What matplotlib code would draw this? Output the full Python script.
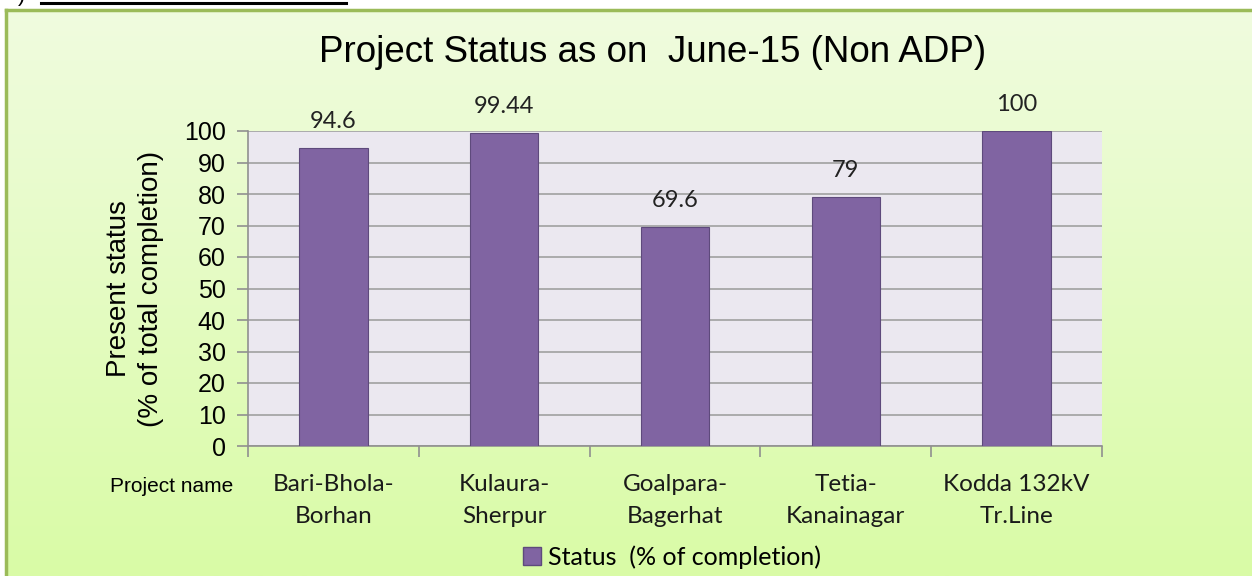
import matplotlib
matplotlib.use('Agg')
import matplotlib.pyplot as plt
import numpy as np
from matplotlib.patches import Patch
from matplotlib.lines import Line2D

projects = ['Bari-Bhola-\nBorhan', 'Kulaura-\nSherpur', 'Goalpara-\nBagerhat',
            'Tetia-\nKanainagar', 'Kodda 132kV\nTr.Line']
status = [94.6, 99.44, 69.6, 79, 100]
labels = ['94.6', '99.44', '69.6', '79', '100']
yticks = list(range(0, 101, 10))

W, H = 1252, 576
fig = plt.figure(figsize=(W / 100, H / 100), dpi=100)
fig.patch.set_facecolor('white')

# green gradient panel with border
bg = fig.add_axes([5 / W, 0, 1 - 5 / W, 1 - 10 / H], zorder=-10)
grad = np.linspace(0, 1, 256)[:, None]
top = np.array([240, 252, 223]) / 255
bot = np.array([217, 251, 166]) / 255
img = top[None, None, :] * (1 - grad[:, :, None]) + bot[None, None, :] * grad[:, :, None]
bg.imshow(img, aspect='auto', extent=[0, 1, 0, 1])
bg.set_xlim(0, 1)
bg.set_ylim(0, 1)
bg.axis('off')
fig.add_artist(Line2D([6 / W, 1], [1 - 10 / H, 1 - 10 / H], color='#9BBB59', lw=2.5))
fig.add_artist(Line2D([6 / W, 6 / W], [0, 1 - 10 / H], color='#9BBB59', lw=2.5))

# fragment of page text above the chart
fig.text(18 / W, 1 + 4 / H, ')', fontsize=16, color='black', va='center',
         family='Liberation Sans')
fig.add_artist(Line2D([41 / W, 346 / W], [1 - 3 / H, 1 - 3 / H], color='black', lw=2.2))

ax = fig.add_axes([248 / W, 1 - 446 / H, (1102 - 248) / W, (446 - 131) / H])
ax.set_facecolor('#EBE8F0')
x = np.arange(len(projects))
bars = ax.bar(x, status, width=0.40, color='#8064A2', edgecolor='#5E4A7C',
              linewidth=0.8, zorder=3)
for b, lab in zip(bars, labels):
    ax.annotate(lab, (b.get_x() + b.get_width() / 2, b.get_height()),
                xytext=(0, 19), textcoords='offset points', ha='center', va='center',
                fontsize=17, family='Lato', color='#222222')

ax.set_xlim(-0.5, len(projects) - 0.5)
ax.set_ylim(0, 100)
ax.set_yticks(yticks)
ax.yaxis.grid(True, color='#A0A0A0', lw=1.2, zorder=1)
ax.set_axisbelow(True)
for s in ['top', 'right']:
    ax.spines[s].set_visible(False)
for s in ['left', 'bottom']:
    ax.spines[s].set_color('#909090')
    ax.spines[s].set_linewidth(1.2)

ax.set_xticks(x)
ax.set_xticklabels(projects, fontsize=17.5, family='Lato', color='#1a1a1a', linespacing=1.65)
ax.tick_params(axis='x', which='major', length=0, pad=20)
ax.set_xticks(np.arange(len(projects) + 1) - 0.5, minor=True)
ax.tick_params(axis='x', which='minor', length=8, color='#909090', width=1.2)
ax.tick_params(axis='y', length=8, color='#909090', width=1.2, pad=8)
for t in ax.get_yticklabels():
    t.set_fontsize(18)
    t.set_family('Liberation Sans')

ax.set_ylabel('Present status\n(% of total completion)', fontsize=20,
              family='Liberation Sans', linespacing=1.32)
ax.yaxis.set_label_coords(-0.098, 0.5)

fig.text(653 / W, 1 - 52 / H, 'Project Status as on  June-15 (Non ADP)', fontsize=26.5,
         family='Liberation Sans', ha='center', va='center')
fig.text(172 / W, 1 - 487 / H, 'Project name', fontsize=15,
         family=['Liberation Sans Narrow', 'Liberation Sans'], ha='center', va='center')

fig.legend(handles=[Patch(facecolor='#8064A2', edgecolor='#5E4A7C', label='Status  (% of completion)')],
           loc='center', bbox_to_anchor=(672 / W, 1 - 557 / H), frameon=False,
           prop={'family': 'Lato', 'size': 18}, handlelength=0.7, handleheight=0.7,
           handletextpad=0.3)

fig.savefig('out.png', dpi=100)
